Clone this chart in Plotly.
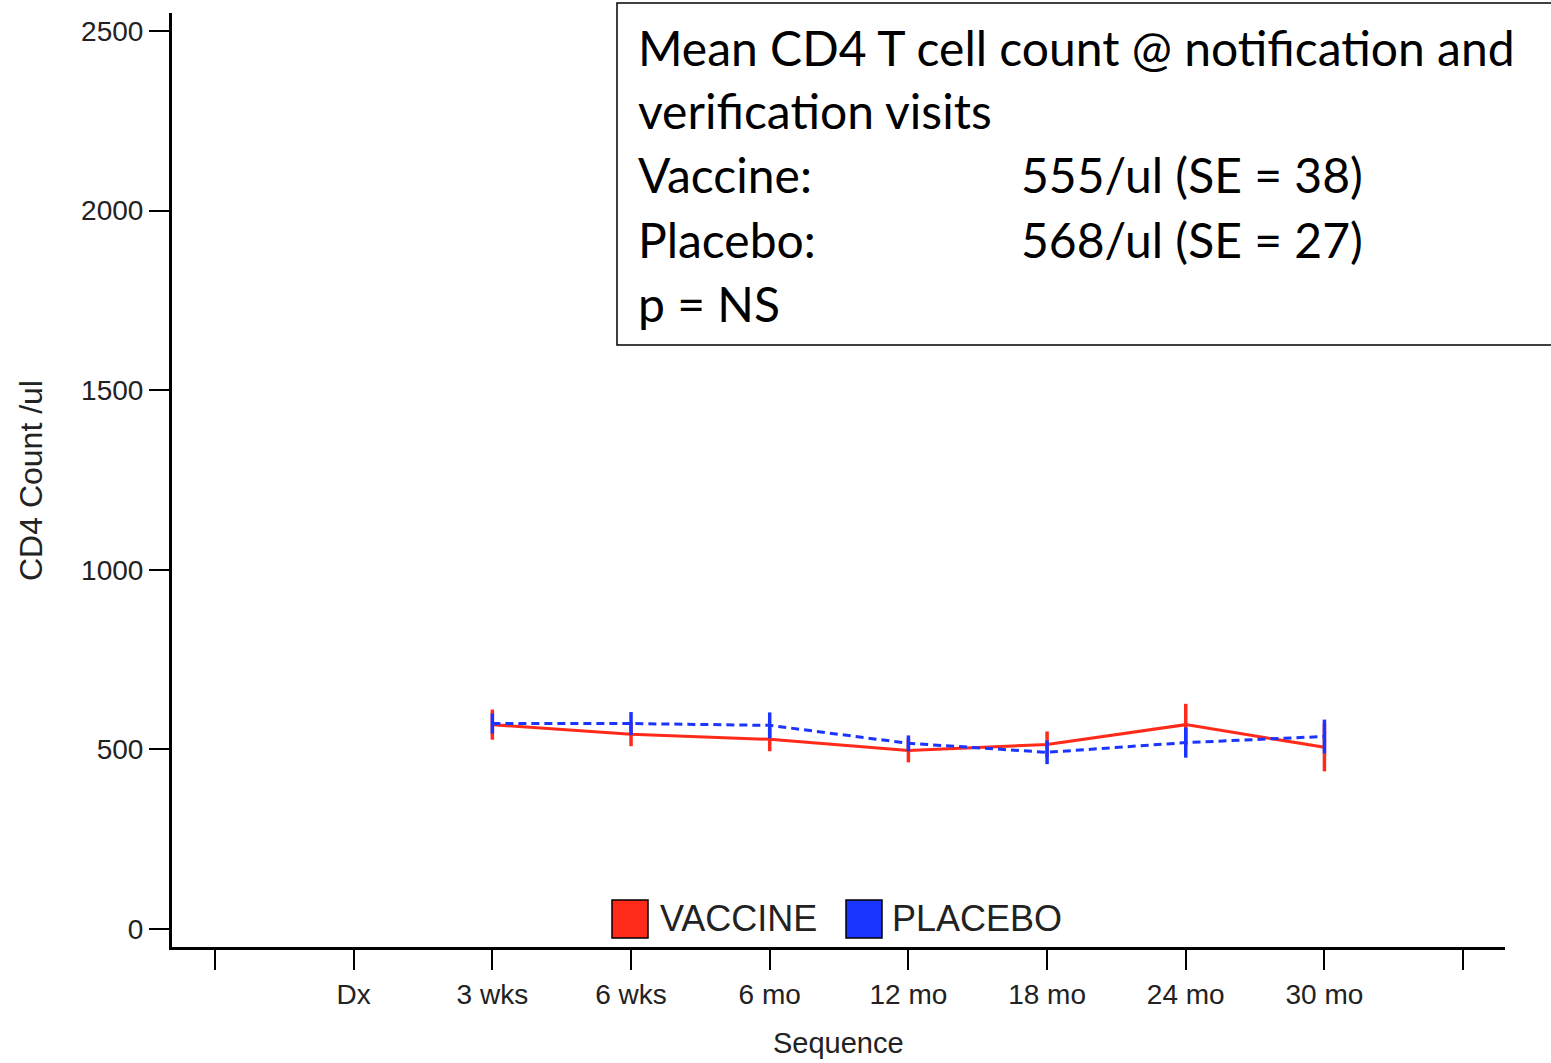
import plotly.graph_objects as go

# ---- data ----
tick_labels = ["", "Dx", "3 wks", "6 wks", "6 mo", "12 mo", "18 mo", "24 mo", "30 mo", ""]
visits = ["3 wks", "6 wks", "6 mo", "12 mo", "18 mo", "24 mo", "30 mo"]
vaccine_mean = [569, 542, 528, 497, 514, 569, 506]
vaccine_se = [42, 33, 33, 33, 36, 58, 67]
placebo_mean = [572, 572, 567, 517, 492, 519, 536]
placebo_se = [28, 32, 36, 22, 33, 42, 47]
y_ticks = [0, 500, 1000, 1500, 2000, 2500]

RED = "#FF2A1A"
BLUE = "#1A35FF"

W, H = 1551, 1063
L, R, T, B = 172, 46, 13, 116
PW, PH = W - L - R, H - T - B


def px_x(px):
    return (px - L) / PW


def px_y(py):
    return (H - B - py) / PH


x_idx = [tick_labels.index(v) for v in visits]

fig = go.Figure()
fig.add_trace(go.Scatter(
    x=x_idx, y=vaccine_mean, mode="lines", name="VACCINE",
    line=dict(color=RED, width=3),
    error_y=dict(type="data", array=vaccine_se, visible=True, color=RED, thickness=3.5, width=0),
    showlegend=False,
))
fig.add_trace(go.Scatter(
    x=x_idx, y=placebo_mean, mode="lines", name="PLACEBO",
    line=dict(color=BLUE, width=3, dash="8px,5px"),
    error_y=dict(type="data", array=placebo_se, visible=True, color=BLUE, thickness=3.5, width=0),
    showlegend=False,
))

tick_font = dict(family="Liberation Sans, Arial, sans-serif", size=28, color="#222222")

fig.update_xaxes(
    range=[-0.31, 9.302], tickmode="array", tickvals=list(range(len(tick_labels))),
    ticktext=tick_labels, showgrid=False, zeroline=False, showline=True,
    linecolor="black", linewidth=3, ticks="outside", ticklen=20, tickwidth=2,
    tickcolor="black", tickfont=tick_font, fixedrange=True,
)
fig.update_yaxes(
    range=[-50, 2550], tickmode="array", tickvals=y_ticks,
    ticktext=[str(v) for v in y_ticks], showgrid=False, zeroline=False, showline=True,
    linecolor="black", linewidth=3, ticks="outside", ticklen=20, tickwidth=2,
    tickcolor="black", tickfont=tick_font, fixedrange=True,
)

shapes = []
annotations = []

# axis titles
annotations.append(dict(text="Sequence", xref="paper", yref="paper",
                        x=px_x(838), y=px_y(1043), xanchor="center", yanchor="middle",
                        showarrow=False, font=dict(family="Liberation Sans, Arial, sans-serif", size=29, color="#222222")))
annotations.append(dict(text="CD4 Count /ul", xref="paper", yref="paper",
                        x=px_x(31), y=px_y(481), xanchor="center", yanchor="middle", textangle=-90,
                        showarrow=False, font=dict(family="Liberation Sans, Arial, sans-serif", size=32, color="#222222")))

# legend (drawn manually)
legend_items = [("VACCINE", RED, 612, 660), ("PLACEBO", BLUE, 846, 892)]
for name, col, sx, tx in legend_items:
    shapes.append(dict(type="rect", xref="paper", yref="paper",
                       x0=px_x(sx), x1=px_x(sx + 36), y0=px_y(938), y1=px_y(900),
                       fillcolor=col, line=dict(color="black", width=1.5)))
    annotations.append(dict(text=name, xref="paper", yref="paper",
                            x=px_x(tx - 2), y=px_y(918), xanchor="left", yanchor="middle",
                            showarrow=False, font=dict(family="Liberation Sans, Arial, sans-serif", size=36, color="#222222")))

# info box
shapes.append(dict(type="rect", xref="paper", yref="paper",
                   x0=px_x(617), x1=px_x(1600), y0=px_y(345), y1=px_y(3),
                   fillcolor="white", line=dict(color="black", width=1.5), layer="above"))
box_font = dict(family="Lato, Open Sans, sans-serif", size=48, color="black")
box_left = ["Mean CD4 T cell count @ notification and", "verification visits", "Vaccine:", "Placebo:", "p = NS"]
box_right = ["", "", "555/ul (SE = 38)", "568/ul (SE = 27)", ""]
line_y = [47, 110, 175, 239, 303]
for lt, rt, yy in zip(box_left, box_right, line_y):
    annotations.append(dict(text=lt, xref="paper", yref="paper", x=px_x(636), y=px_y(yy),
                            xanchor="left", yanchor="middle", showarrow=False, font=box_font))
    if rt:
        annotations.append(dict(text=rt, xref="paper", yref="paper", x=px_x(1019), y=px_y(yy),
                                xanchor="left", yanchor="middle", showarrow=False, font=box_font))

fig.update_layout(
    width=W, height=H, margin=dict(l=L, r=R, t=T, b=B, autoexpand=False),
    paper_bgcolor="white", plot_bgcolor="white",
    shapes=shapes, annotations=annotations, showlegend=False,
)

fig.write_html("out.html")
